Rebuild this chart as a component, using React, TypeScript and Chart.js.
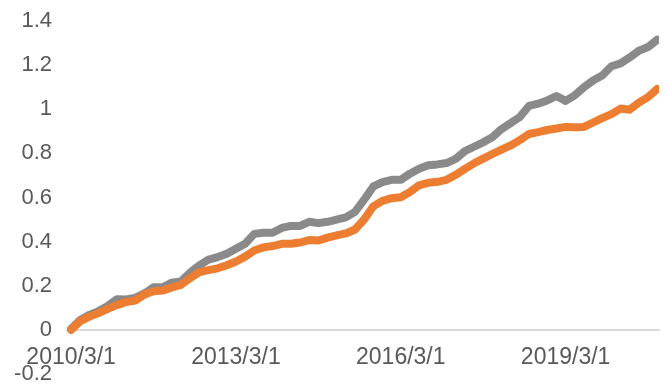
import React, { useEffect, useRef } from "react";
import { Chart, registerables } from "chart.js";

Chart.register(...registerables);

// month index since 2010/3 (every two months)
const months: number[] = [
  0, 2, 4, 6, 8, 10, 12, 14, 16, 18, 20, 22, 24, 26, 28, 30, 32, 34, 36, 38,
  40, 42, 44, 46, 48, 50, 52, 54, 56, 58, 60, 62, 64, 66, 68, 70, 72, 74, 76, 78,
  80, 82, 84, 86, 88, 90, 92, 94, 96, 98, 100, 102, 104, 106, 108, 110, 112, 114,
  116, 118, 120, 122, 124, 126, 128,
];

const graySeries: number[] = [
  0.005, 0.045, 0.068, 0.085, 0.108, 0.139, 0.138, 0.145, 0.165, 0.193, 0.193,
  0.214, 0.22, 0.26, 0.292, 0.318, 0.33, 0.345, 0.368, 0.39, 0.435, 0.44, 0.44,
  0.462, 0.471, 0.471, 0.49, 0.484, 0.49, 0.5, 0.51, 0.535, 0.59, 0.65, 0.67,
  0.68, 0.68, 0.708, 0.73, 0.746, 0.75, 0.756, 0.775, 0.81, 0.83, 0.85, 0.873,
  0.91, 0.937, 0.965, 1.015, 1.025, 1.04, 1.06, 1.038, 1.063, 1.1, 1.13, 1.153,
  1.195, 1.208, 1.235, 1.265, 1.282, 1.315,
];

const orangeSeries: number[] = [
  0.0, 0.04, 0.06, 0.076, 0.095, 0.112, 0.126, 0.133, 0.16, 0.175, 0.178, 0.192,
  0.204, 0.235, 0.262, 0.271, 0.279, 0.293, 0.31, 0.332, 0.36, 0.374, 0.38, 0.39,
  0.39, 0.396, 0.407, 0.405, 0.418, 0.428, 0.437, 0.455, 0.5, 0.56, 0.585, 0.597,
  0.601, 0.625, 0.655, 0.667, 0.671, 0.68, 0.703, 0.73, 0.755, 0.776, 0.797,
  0.817, 0.836, 0.86, 0.888, 0.896, 0.906, 0.913, 0.92, 0.918, 0.92, 0.94, 0.96,
  0.978, 1.003, 0.998, 1.03, 1.055, 1.092,
];

const xTickMonths: number[] = [0, 36, 72, 108];
const xTickLabels: string[] = ["2010/3/1", "2013/3/1", "2016/3/1", "2019/3/1"];

const FONT = "'Liberation Sans', Arial, sans-serif";
const TEXT = "#595959";

export default function App() {
  const ref = useRef<HTMLCanvasElement | null>(null);

  useEffect(() => {
    if (!ref.current) return;
    const chart = new Chart(ref.current, {
      type: "line",
      data: {
        datasets: [
          {
            label: "orange",
            data: months.map((m, i) => ({ x: m, y: orangeSeries[i] })),
            borderColor: "#ED7D31",
            backgroundColor: "#ED7D31",
            borderWidth: 8,
            pointRadius: 0,
            tension: 0,
            borderJoinStyle: "round",
            borderCapStyle: "round",
          },
          {
            label: "gray",
            data: months.map((m, i) => ({ x: m, y: graySeries[i] })),
            borderColor: "#8A8A8A",
            backgroundColor: "#8A8A8A",
            borderWidth: 8,
            pointRadius: 0,
            tension: 0,
            borderJoinStyle: "round",
            borderCapStyle: "round",
          },
        ],
      },
      options: {
        responsive: false,
        animation: false,
        layout: { padding: { top: 21, bottom: 16, right: 7, left: 0 } },
        plugins: { legend: { display: false }, tooltip: { enabled: false } },
        scales: {
          x: {
            type: "linear",
            position: { y: 0 },
            min: -0.9,
            max: 128.4,
            grid: { display: false, drawTicks: false },
            border: { display: true, color: "#D9D9D9", width: 2 },
            afterBuildTicks: (scale: any) => {
              scale.ticks = xTickMonths.map((v) => ({ value: v }));
            },
            ticks: {
              autoSkip: false,
              maxRotation: 0,
              padding: 14,
              color: TEXT,
              font: { family: FONT, size: 23 },
              callback: (v: any) => {
                const idx = xTickMonths.indexOf(Number(v));
                return idx >= 0 ? xTickLabels[idx] : "";
              },
            },
          },
          y: {
            min: -0.2,
            max: 1.4,
            grid: {
              display: true,
              color: "rgba(0,0,0,0)",
              drawOnChartArea: false,
              drawTicks: true,
              tickLength: 15,
            },
            border: { display: false },
            afterFit: (scale: any) => {
              scale.width = 67;
            },
            ticks: {
              stepSize: 0.2,
              padding: 0,
              color: TEXT,
              font: { family: FONT, size: 22 },
              callback: (v: any) => String(Number(Number(v).toFixed(1))),
            },
          },
        },
      },
    });
    return () => chart.destroy();
  }, []);

  return (
    <div style={{ position: "absolute", left: 0, top: 0, width: 666, height: 390, background: "#fff" }}>
      <canvas ref={ref} width={666} height={390} style={{ display: "block" }} />
    </div>
  );
}
